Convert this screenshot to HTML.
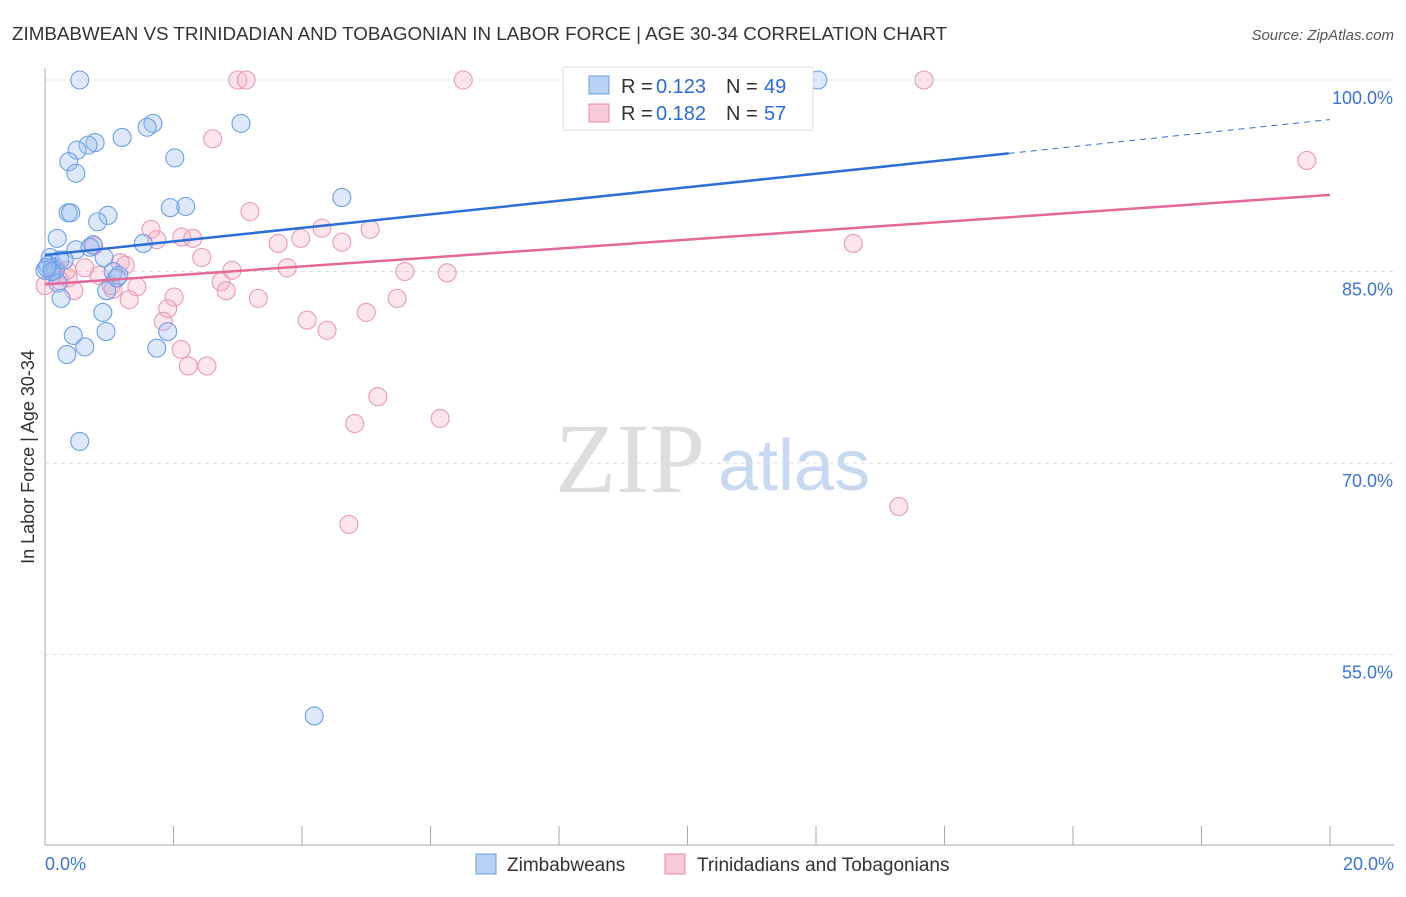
<!DOCTYPE html>
<html><head><meta charset="utf-8"><style>
body{margin:0;background:#fff;font-family:"Liberation Sans",sans-serif}
</style></head><body>
<svg id="c" width="1406" height="892" xmlns="http://www.w3.org/2000/svg">
<text x="12" y="40" font-size="18.8" fill="#333">ZIMBABWEAN VS TRINIDADIAN AND TOBAGONIAN IN LABOR FORCE | AGE 30-34 CORRELATION CHART</text>
<text x="1394" y="40" font-size="15" fill="#555" font-style="italic" text-anchor="end">Source: ZipAtlas.com</text>
<text x="555" y="492" font-size="100" fill="#ddd" font-family="Liberation Serif">ZIP</text>
<text x="718" y="490" font-size="72" fill="#c8d8f0">atlas</text>
<text transform="translate(34,457) rotate(-90)" font-size="18" fill="#333" text-anchor="middle">In Labor Force | Age 30-34</text>
<g id="grid"></g><g id="pts"></g><g id="lines"></g>
<g>
<rect x="563" y="67" width="250" height="63" fill="#fff" stroke="#ddd"/>
<rect x="589" y="76" width="20" height="18" fill="#b8d2f6" stroke="#6a9be0"/>
<text x="621" y="93" font-size="20" fill="#333">R =</text>
<text x="656" y="93" font-size="20" fill="#2c6bd6">0.123</text>
<text x="726" y="93" font-size="20" fill="#333">N =</text>
<text x="764" y="93" font-size="20" fill="#2c6bd6">49</text>
<rect x="589" y="104" width="20" height="18" fill="#f8c9d8" stroke="#e88aa8"/>
<text x="621" y="120" font-size="20" fill="#333">R =</text>
<text x="656" y="120" font-size="20" fill="#2c6bd6">0.182</text>
<text x="726" y="120" font-size="20" fill="#333">N =</text>
<text x="764" y="120" font-size="20" fill="#2c6bd6">57</text>
</g>
<g>
<rect x="476" y="854" width="20" height="20" fill="#b8d2f6" stroke="#6a9be0"/>
<text x="507" y="871" font-size="19" fill="#333">Zimbabweans</text>
<rect x="665" y="854" width="20" height="20" fill="#f8c9d8" stroke="#e88aa8"/>
<text x="697" y="871" font-size="19" fill="#333">Trinidadians and Tobagonians</text>
</g>
</svg>
<script>
const blueX=[0.54,1.68,1.59,3.05,1.20,0.78,0.67,0.50,0.37,0.48,2.02,4.62,2.19,1.95,0.36,0.40,0.98,0.82,0.19,1.53,0.75,0.48,0.92,0.08,0.23,0.05,0.11,0.16,0.0,1.06,0.20,1.12,0.96,0.25,0.90,1.91,0.44,0.95,0.62,1.74,0.34,0.54,4.19,12.03,0.11,0.03,0.30,1.15,0.70];
const blueY=[100,96.6,96.3,96.6,95.5,95.1,94.9,94.5,93.6,92.7,93.9,90.8,90.1,90.0,89.6,89.6,89.4,88.9,87.6,87.2,87.1,86.7,86.1,86.1,85.9,85.5,85.3,85.1,85.1,85.0,84.1,84.5,83.5,82.9,81.8,80.3,80.0,80.3,79.1,79.0,78.5,71.7,50.2,100,85.0,85.3,85.9,84.7,86.9];
const pinkX=[3.00,3.13,6.51,10.46,13.68,19.64,2.61,3.19,1.65,1.74,2.13,2.30,4.31,5.06,4.62,3.98,3.63,0.76,1.17,1.25,2.44,2.91,3.77,5.60,6.26,12.58,0.62,0.34,0.11,0.36,0.84,1.03,1.43,2.74,2.82,2.01,1.31,3.32,5.48,5.00,1.91,1.84,4.08,4.39,2.12,2.23,2.52,5.18,4.82,6.15,4.73,13.29,0.17,0.45,0.0,0.23,1.06];
const pinkY=[100,100,100,100,100,93.7,95.4,89.7,88.3,87.5,87.7,87.6,88.4,88.3,87.3,87.6,87.2,87.0,85.7,85.5,86.1,85.1,85.3,85.0,84.9,87.2,85.3,85.1,84.7,84.5,84.7,83.9,83.8,84.2,83.5,83.0,82.8,82.9,82.9,81.8,82.1,81.1,81.2,80.4,78.9,77.6,77.6,75.2,73.1,73.5,65.2,66.6,85.3,83.5,83.9,84.3,83.6];
const blueTrend=[86.3,96.9];
const pinkTrend=[84.0,91.0];
const yTicks=[100,85,70,55];
const xTickLabels=["0.0%","20.0%"];
const NS="http://www.w3.org/2000/svg";
const sx=v=>45+v*64.25, sy=v=>80+(100-v)*12.77;
function mk(t,a,p){const e=document.createElementNS(NS,t);for(const k in a)e.setAttribute(k,a[k]);p.appendChild(e);return e;}
const svg=document.getElementById('c'),grid=document.getElementById('grid'),pts=document.getElementById('pts'),lines=document.getElementById('lines');
yTicks.forEach(v=>{
 const l=mk('line',{x1:45,x2:1394,y1:sy(v),y2:sy(v),stroke:'#ddd','stroke-dasharray':'4,4'},grid);
 
 
 const t=mk('text',{x:1393,y:sy(v)+24,'font-size':18,fill:'#3a74d4','text-anchor':'end'},grid);
 t.textContent=v.toFixed(1)+'%';
 
 
});
const ax=mk('line',{x1:45,x2:45,y1:68,y2:845,stroke:'#aaa'},grid);


const bx=mk('line',{x1:45,x2:1394,y1:845,y2:845,stroke:'#aaa'},grid);


for(let i=0;i<=10;i++){const tk=mk('line',{x1:sx(i*2),x2:sx(i*2),y1:826,y2:845,stroke:'#aaa'},grid);
 
 }
[[0,'start',45],[1,'end',1394]].forEach(([i,a,x])=>{const t=mk('text',{x:x,y:870,'font-size':18,fill:'#3a74d4','text-anchor':a},grid);t.textContent=xTickLabels[i];
 
 });
function dots(X,Y,f,s,n){X.forEach((x,i)=>{const c=mk('circle',{cx:sx(x),cy:sy(Y[i]),r:9,fill:f,stroke:s,'stroke-width':1.1},pts);
 
 });}
dots(pinkX,pinkY,'rgba(245,170,196,0.3)','#ea9ab5','trinidadian-point');
dots(blueX,blueY,'rgba(150,188,240,0.32)','#6e9ee6','zimbabwean-point');
const by=x=>blueTrend[0]+(blueTrend[1]-blueTrend[0])*x/20, py=x=>pinkTrend[0]+(pinkTrend[1]-pinkTrend[0])*x/20;
let l1=mk('line',{x1:sx(0),y1:sy(by(0)),x2:sx(15),y2:sy(by(15)),stroke:'#2e6fd6','stroke-width':2.5},lines);


let l2=mk('line',{x1:sx(15),y1:sy(by(15)),x2:sx(20),y2:sy(by(20)),stroke:'#2e6fd6','stroke-width':1,'stroke-dasharray':'6,5'},lines);


let l3=mk('line',{x1:sx(0),y1:sy(py(0)),x2:sx(20),y2:sy(py(20)),stroke:'#e4699a','stroke-width':2.5},lines);


</script>
</body></html>
